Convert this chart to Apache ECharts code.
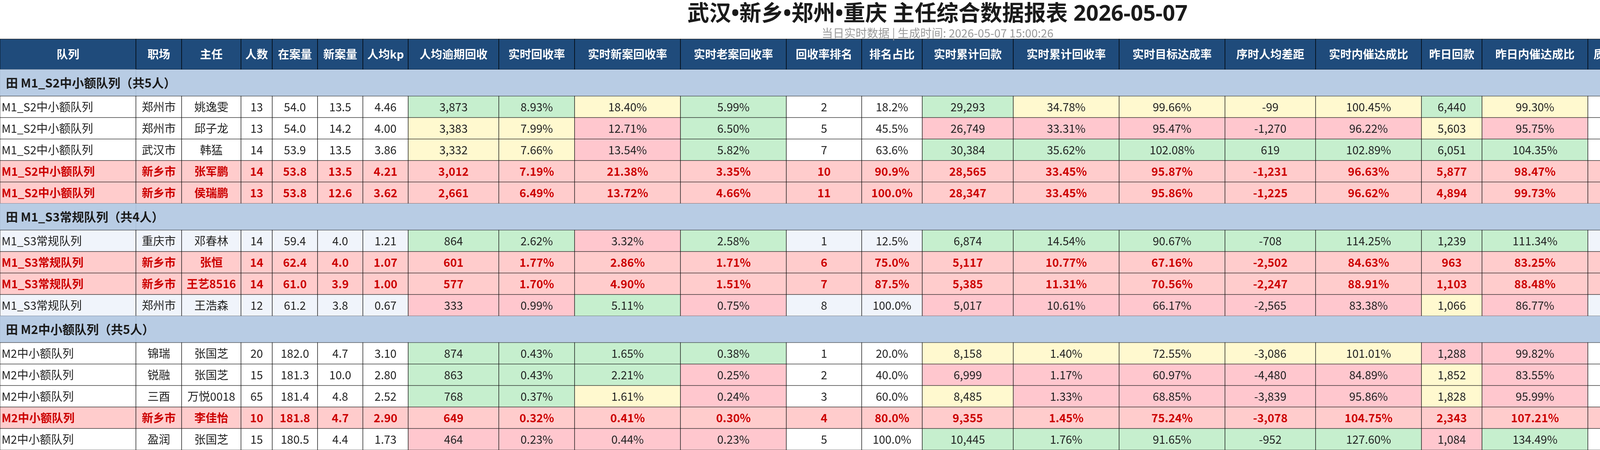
<!DOCTYPE html>
<html>
<head>
<meta charset="utf-8">
<script src="https://cdn.jsdelivr.net/npm/echarts@6/dist/echarts.min.js"></script>
<style>
html, body { margin: 0; padding: 0; background: #fff; }
#chart { width: 4800px; height: 1152px; }
</style>
</head>
<body>
<div id="chart"></div>
<script>
var headers = ['队列', '职场', '主任', '人数', '在案量', '新案量', '人均kp', '人均逾期回收', '实时回收率',
    '实时新案回收率', '实时老案回收率', '回收率排名', '排名占比', '实时累计回款', '实时累计回收率',
    '实时目标达成率', '序时人均差距', '实时内催达成比', '昨日回款', '昨日内催达成比', '质检量',
    '投诉量', '投诉率', '投诉达成率', '重渠投诉量'];

var groupNames = ['M1_S2中小额队列', 'M1_S3常规队列', 'M2中小额队列'];
var groupSizes = [5, 4, 5];

var queues = ['M1_S2中小额队列', 'M1_S2中小额队列', 'M1_S2中小额队列', 'M1_S2中小额队列', 'M1_S2中小额队列',
    'M1_S3常规队列', 'M1_S3常规队列', 'M1_S3常规队列', 'M1_S3常规队列',
    'M2中小额队列', 'M2中小额队列', 'M2中小额队列', 'M2中小额队列', 'M2中小额队列'];
var sites = ['郑州市', '郑州市', '武汉市', '新乡市', '新乡市', '重庆市', '新乡市', '新乡市', '郑州市',
    '锦瑞', '锐融', '三酉', '新乡市', '盈润'];
var directors = ['姚逸雯', '邱子龙', '韩猛', '张军鹏', '侯瑞鹏', '邓春林', '张恒', '王艺8516', '王浩森',
    '张国芝', '张国芝', '万悦0018', '李佳怡', '张国芝'];
var headcount = [13, 13, 14, 14, 13, 14, 14, 14, 12, 20, 15, 65, 10, 15];
var caseLoad = [54.0, 54.0, 53.9, 53.8, 53.8, 59.4, 62.4, 61.0, 61.2, 182.0, 181.3, 181.4, 181.8, 180.5];
var newCases = [13.5, 14.2, 13.5, 13.5, 12.6, 4.0, 4.0, 3.9, 3.8, 4.7, 10.0, 4.8, 4.7, 4.4];
var kpPerHead = [4.46, 4.00, 3.86, 4.21, 3.62, 1.21, 1.07, 1.00, 0.67, 3.10, 2.80, 2.52, 2.90, 1.73];
var overduePerHead = [3873, 3383, 3332, 3012, 2661, 864, 601, 577, 333, 874, 863, 768, 649, 464];
var recoveryRate = [8.93, 7.99, 7.66, 7.19, 6.49, 2.62, 1.77, 1.70, 0.99, 0.43, 0.43, 0.37, 0.32, 0.23];
var newCaseRate = [18.40, 12.71, 13.54, 21.38, 13.72, 3.32, 2.86, 4.90, 5.11, 1.65, 2.21, 1.61, 0.41, 0.44];
var oldCaseRate = [5.99, 6.50, 5.82, 3.35, 4.66, 2.58, 1.71, 1.51, 0.75, 0.38, 0.25, 0.24, 0.30, 0.23];
var rateRank = [2, 5, 7, 10, 11, 1, 6, 7, 8, 1, 2, 3, 4, 5];
var rankShare = [18.2, 45.5, 63.6, 90.9, 100.0, 12.5, 75.0, 87.5, 100.0, 20.0, 40.0, 60.0, 80.0, 100.0];
var cumPayment = [29293, 26749, 30384, 28565, 28347, 6874, 5117, 5385, 5017, 8158, 6999, 8485, 9355, 10445];
var cumRate = [34.78, 33.31, 35.62, 33.45, 33.45, 14.54, 10.77, 11.31, 10.61, 1.40, 1.17, 1.33, 1.45, 1.76];
var targetRate = [99.66, 95.47, 102.08, 95.87, 95.86, 90.67, 67.16, 70.56, 66.17, 72.55, 60.97, 68.85, 75.24, 91.65];
var paceGap = [-99, -1270, 619, -1231, -1225, -708, -2502, -2247, -2565, -3086, -4480, -3839, -3078, -952];
var innerRate = [100.45, 96.22, 102.89, 96.63, 96.62, 114.25, 84.63, 88.91, 83.38, 101.01, 84.89, 95.86, 104.75, 127.60];
var yesterdayPayment = [6440, 5603, 6051, 5877, 4894, 1239, 963, 1103, 1066, 1288, 1852, 1828, 2343, 1084];
var yesterdayInnerRate = [99.30, 95.75, 104.35, 98.47, 99.73, 111.34, 83.25, 88.48, 86.77, 99.82, 83.55, 95.99, 107.21, 134.49];
var qcCount = [0.0, 1.0, 0.0, 1.0, 1.0, 0.0, 0.0, 1.0, 1.0, null, null, null, 3.0, null];
var complaints = [1, 4, 6, 5, 2, 1, 1, 1, 1, null, null, null, null, null];
var complaintRate = [0.07, 0.30, 0.40, 0.33, 0.14, 0.08, 0.08, 0.08, 0.09, null, null, null, null, null];
var complaintTarget = [16.19, 67.44, 89.23, 75.40, 31.35, 25.39, 25.21, 25.29, 29.47, null, null, null, null, null];
var repeatComplaints = [0, 0, 0, 0, 0, 0, 0, 0, 0, null, null, null, null, null];

// 1 = 重点标红的主任
var flagged = [0, 0, 0, 1, 1, 0, 1, 1, 0, 0, 0, 0, 1, 0];

// 单元格状态: g 达标 / y 接近 / r 未达 / . 无
var stOverdue = 'gyy..g..rggg.r';
var stRecovery = 'gyy..g..rggg.r';
var stNewCase = 'yrr..r..gggy.r';
var stOldCase = 'ggg..g..rgrr.r';
var stCumPay = 'grg..g..ryry.g';
var stCumRate = 'yrg..g..ryrr.g';
var stTarget = 'yrg..g..ryrr.g';
var stPace = 'yrg..g..ryrr.g';
var stInner = 'yrg..g..ryrr.g';
var stYPay = 'gyg..g..yryy.r';
var stYInner = 'yrg..g..rrrr.g';
var stCompRate = 'grr..g..r.....';
var stCompTarget = 'grr..g..r.....';

// layout
var colWidths = [348, 117, 152, 80, 116, 116, 116, 232, 194, 271, 271, 193, 155, 233, 271, 271, 232, 271, 155, 271, 116, 116, 116, 194, 193];
var HEADER_H = 78, GROUP_H = 68, ROW_H = 55;
var FONT = '"Noto Sans CJK SC", "Noto Sans", sans-serif';
var TITLE_FONT = '"Noto Sans", "Noto Sans CJK SC", sans-serif';
var statusFill = { g: '#c6efce', y: '#fff9cf', r: '#ffc7ce' };

function txt(v) { return v == null ? '-' : String(v); }
function f1(v) { return v == null ? '-' : v.toFixed(1); }
function f2(v) { return v == null ? '-' : v.toFixed(2); }
function num(v) { return v == null ? '-' : v.toLocaleString('en-US'); }
function pct1(v) { return v == null ? '-' : v.toFixed(1) + '%'; }
function pct2(v) { return v == null ? '-' : v.toFixed(2) + '%'; }

var columns = [
    [queues, txt], [sites, txt], [directors, txt], [headcount, txt], [caseLoad, f1], [newCases, f1],
    [kpPerHead, f2], [overduePerHead, num, stOverdue], [recoveryRate, pct2, stRecovery],
    [newCaseRate, pct2, stNewCase], [oldCaseRate, pct2, stOldCase], [rateRank, txt], [rankShare, pct1],
    [cumPayment, num, stCumPay], [cumRate, pct2, stCumRate], [targetRate, pct2, stTarget],
    [paceGap, num, stPace], [innerRate, pct2, stInner], [yesterdayPayment, num, stYPay],
    [yesterdayInnerRate, pct2, stYInner], [qcCount, f1], [complaints, txt],
    [complaintRate, pct2, stCompRate], [complaintTarget, pct2, stCompTarget], [repeatComplaints, txt]
];

var colX = [0];
colWidths.forEach(function (w, i) { colX.push(colX[i] + w); });
var totalW = colX[colX.length - 1];

var cells = [];
function addCell(x0, x1, y0, y1, o) {
    o.box = [x0, x1, y0, y1];
    cells.push(o);
}

// header
var y = 0;
headers.forEach(function (h, c) {
    addCell(colX[c], colX[c + 1], y, y + HEADER_H, {
        text: h, fill: '#1f4b7b', stroke: '#000', color: '#fff', weight: 'bold', size: 29, align: 'center'
    });
});
y += HEADER_H;

var r = 0;
groupNames.forEach(function (g, gi) {
    var last = headers.length - 1;
    addCell(0, colX[last], y, y + GROUP_H, { fill: '#b8cce4' });
    addCell(0, colX[1], y, y + GROUP_H, { fill: 'none', stroke: '#a3b8d2' });
    addCell(colX[last], colX[last + 1], y, y + GROUP_H, { fill: '#b8cce4', stroke: '#000' });
    addCell(0, colX[last], y, y + GROUP_H, {
        text: '田 ' + g + '（共' + groupSizes[gi] + '人）', fill: 'none', color: '#1a1a1a',
        weight: 'bold', size: 31, align: 'left', pad: 15
    });
    y += GROUP_H;
    for (var k = 0; k < groupSizes[gi]; k++, r++) {
        var hot = flagged[r] === 1;
        var base = hot ? '#ffcccc' : (gi % 2 === 1 ? '#f0f4fb' : '#ffffff');
        columns.forEach(function (col, c) {
            var st = col[2] ? col[2].charAt(r) : '.';
            var fill = (!hot && statusFill[st]) ? statusFill[st] : base;
            addCell(colX[c], colX[c + 1], y, y + ROW_H, {
                text: col[1](col[0][r]), fill: fill, stroke: '#1a1a1a',
                color: hot ? '#cc0000' : '#222', weight: hot ? 'bold' : 'normal', size: 29,
                align: c === 0 ? 'left' : 'center', pad: 4
            });
        });
        y += ROW_H;
    }
});
var totalH = y;

function renderCell(params, api) {
    var c = cells[params.dataIndex];
    var p0 = api.coord([api.value(0), api.value(2)]);
    var p1 = api.coord([api.value(1), api.value(3)]);
    var children = [{
        type: 'rect',
        shape: { x: p0[0], y: p0[1], width: p1[0] - p0[0], height: p1[1] - p0[1] },
        style: { fill: c.fill, stroke: c.stroke || null, lineWidth: 1.2 }
    }];
    if (c.text) {
        children.push({
            type: 'text',
            style: {
                text: c.text,
                x: c.align === 'left' ? p0[0] + c.pad : (p0[0] + p1[0]) / 2,
                y: (p0[1] + p1[1]) / 2,
                align: c.align,
                verticalAlign: 'middle',
                fill: c.color,
                font: c.weight + ' ' + c.size + 'px ' + FONT
            }
        });
    }
    return { type: 'group', children: children };
}

var chart = echarts.init(document.getElementById('chart'));
chart.setOption({
    animation: false,
    title: {
        text: '武汉•新乡•郑州•重庆 主任综合数据报表 2026-05-07',
        subtext: '当日实时数据 | 生成时间: 2026-05-07 15:00:26',
        left: 'center',
        top: 0,
        itemGap: 0,
        textStyle: { fontFamily: TITLE_FONT, fontSize: 56, fontWeight: 'bold', color: '#1a1a1a', lineHeight: 64 },
        subtextStyle: { fontFamily: FONT, fontSize: 29, color: '#999', lineHeight: 32 }
    },
    grid: { left: 0, right: 0, top: 100, bottom: 0 },
    xAxis: { type: 'value', min: 0, max: totalW, show: false },
    yAxis: { type: 'value', min: 0, max: totalH, inverse: true, show: false },
    series: [{
        type: 'custom',
        silent: true,
        clip: false,
        renderItem: renderCell,
        encode: { x: [0, 1], y: [2, 3] },
        data: cells.map(function (c) { return c.box; })
    }]
});
</script>
</body>
</html>
